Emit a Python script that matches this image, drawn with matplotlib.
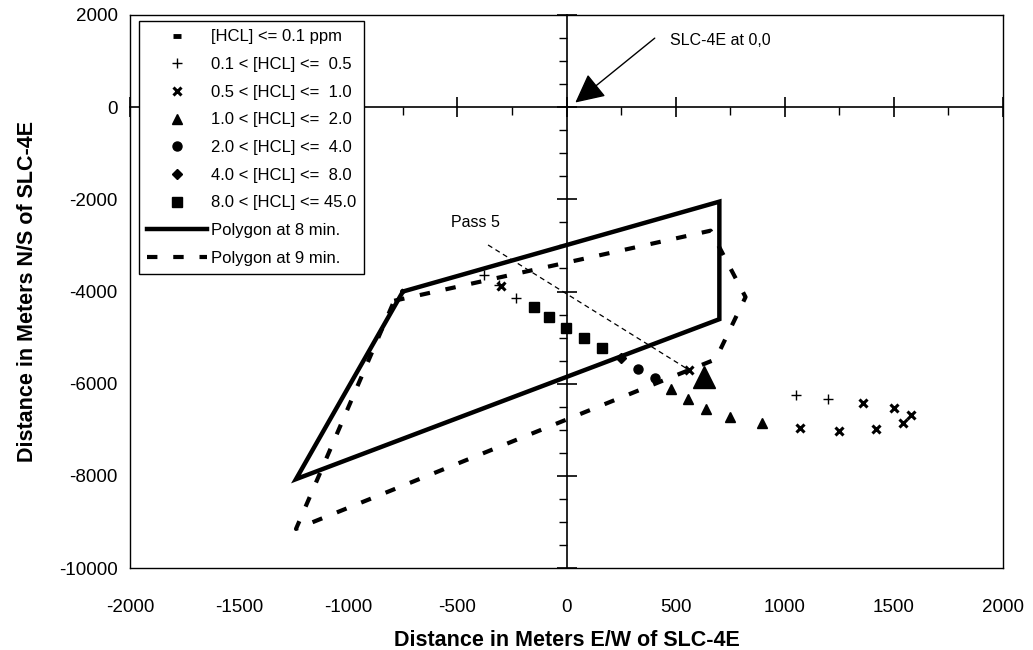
import matplotlib
matplotlib.use("Agg")
import matplotlib.pyplot as plt
from matplotlib.ticker import MultipleLocator

plt.rcParams['font.family'] = ['Liberation Sans', 'DejaVu Sans']
plt.rcParams['axes.unicode_minus'] = False

# samples along pass 5, grouped by HCL concentration band
plus_x = [-380, -310, -230, 1050, 1200]
plus_y = [-3650, -3850, -4150, -6250, -6330]
cross_x = [560, -300, 1070, 1250, 1360, 1420, 1500, 1540, 1580]
cross_y = [-5700, -3870, -6960, -7030, -6420, -6980, -6530, -6850, -6680]
tri_x = [480, 555, 640, 750, 895]
tri_y = [-6120, -6330, -6550, -6720, -6860]
circ_x = [325, 405]
circ_y = [-5680, -5880]
diam_x = [250]
diam_y = [-5440]
sq_x = [-150, -80, -5, 80, 160]
sq_y = [-4340, -4560, -4790, -5010, -5230]

# pass 5 track and its end point
pass_x = [-360, 560]
pass_y = [-2990, -5700]
pass_end_x = [630]
pass_end_y = [-5860]

# cloud polygons
poly8_x = [-750, 700, 700, -1240, -750]
poly8_y = [-4000, -2050, -4600, -8070, -4000]
poly9_x = [-790, 660, 820, 683, -1240, -790]
poly9_y = [-4200, -2680, -4120, -5470, -9150, -4200]

fig = plt.figure(figsize=(10.33, 6.5), dpi=100)
pos = [0.126, 0.126, 0.845, 0.851]

# axis cross through the launch site, drawn underneath the data axes
axc = fig.add_axes(pos, label='cross')
axc.set_xlim(-2000, 2000)
axc.set_ylim(-10000, 2000)
axc.spines['top'].set_visible(False)
axc.spines['right'].set_visible(False)
axc.spines['left'].set_position(('data', 0))
axc.spines['bottom'].set_position(('data', 0))
axc.spines['left'].set_linewidth(1.2)
axc.spines['bottom'].set_linewidth(1.2)
axc.xaxis.set_major_locator(MultipleLocator(500))
axc.xaxis.set_minor_locator(MultipleLocator(250))
axc.yaxis.set_major_locator(MultipleLocator(2000))
axc.yaxis.set_minor_locator(MultipleLocator(500))
axc.tick_params(which='major', direction='inout', length=14, width=1.2,
                labelbottom=False, labelleft=False)
axc.tick_params(which='minor', direction='out', length=6, width=1.0)
axc.set_zorder(0)

ax = fig.add_axes(pos)
ax.set_zorder(1)
ax.patch.set_visible(False)
ax.set_xlim(-2000, 2000)
ax.set_ylim(-10000, 2000)
ax.set_xticks(range(-2000, 2001, 500))
ax.set_yticks(range(-10000, 2001, 2000))
ax.tick_params(length=0, labelsize=13.5)
ax.tick_params(axis='x', pad=22)
ax.tick_params(axis='y', pad=9)
for s in ax.spines.values():
    s.set_linewidth(1.0)

ax.plot([], [], ls='none', marker='_', ms=6, mew=3.5, color='black',
        label='[HCL] <= 0.1 ppm')
ax.plot(plus_x, plus_y, ls='none', marker='+', ms=7, mew=1.0, color='black',
        label='0.1 < [HCL] <=  0.5')
ax.plot(cross_x, cross_y, ls='none', marker='x', ms=6, mew=2.2, color='black',
        label='0.5 < [HCL] <=  1.0')
ax.plot(tri_x, tri_y, ls='none', marker='^', ms=6.5, color='black',
        label='1.0 < [HCL] <=  2.0')
ax.plot(circ_x, circ_y, ls='none', marker='o', ms=6.5, color='black',
        label='2.0 < [HCL] <=  4.0')
ax.plot(diam_x, diam_y, ls='none', marker='D', ms=5, color='black',
        label='4.0 < [HCL] <=  8.0')
ax.plot(sq_x, sq_y, ls='none', marker='s', ms=7, color='black',
        label='8.0 < [HCL] <= 45.0')
ax.plot(poly8_x, poly8_y, color='black', lw=3.2, solid_joinstyle='miter',
        label='Polygon at 8 min.')
ax.plot(poly9_x, poly9_y, color='black', lw=3.0, ls=(0, (2.5, 3.8)),
        label='Polygon at 9 min.')

ax.plot(pass_x, pass_y, color='black', lw=0.9, ls=(0, (4, 3)))
ax.plot(pass_end_x, pass_end_y, ls='none', marker='^', ms=16, color='black')
ax.text(-420, -2500, 'Pass 5', fontsize=11.5, ha='center', va='center')

ax.annotate('', xy=(40, 100), xytext=(404, 1497),
            arrowprops=dict(arrowstyle='-|>,head_length=0.9,head_width=0.45',
                            mutation_scale=20, lw=1.0, color='black',
                            shrinkA=0, shrinkB=0))
ax.text(472, 1453, 'SLC-4E at 0,0', fontsize=11.5, ha='left', va='center')

leg = ax.legend(loc='upper left', bbox_to_anchor=(0.0103, 0.989),
                borderaxespad=0, fontsize=12, numpoints=1, fancybox=False,
                edgecolor='black', framealpha=1, handlelength=3.6,
                handletextpad=0.2, labelspacing=0.76, borderpad=0.5)
leg.get_frame().set_linewidth(1.0)

ax.set_xlabel('Distance in Meters E/W of SLC-4E', fontsize=15.5,
              fontweight='bold', labelpad=10)
ax.set_ylabel('Distance in Meters N/S of SLC-4E', fontsize=15.5,
              fontweight='bold', labelpad=15)

fig.savefig('out.png', dpi=100)
